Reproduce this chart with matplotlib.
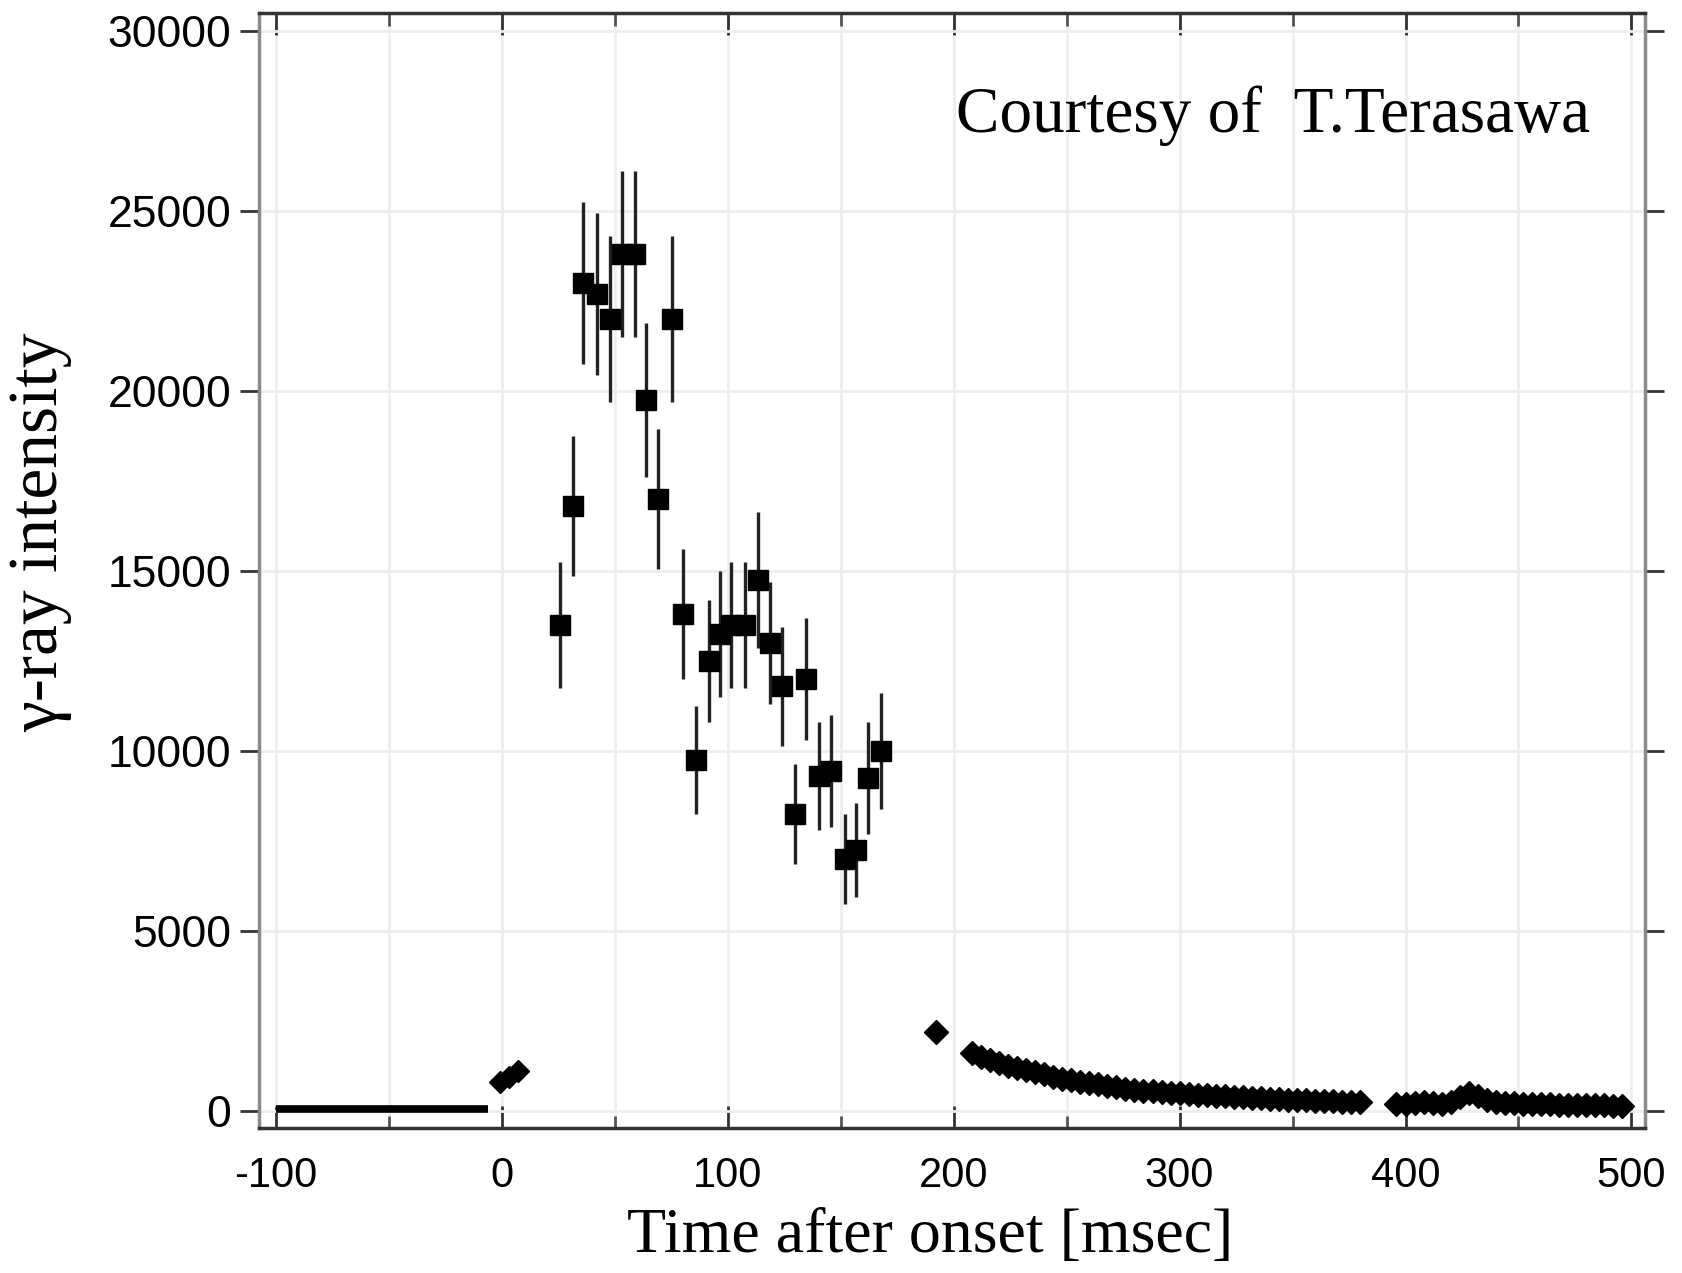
import numpy as np
import matplotlib.pyplot as plt
from matplotlib.ticker import MultipleLocator

plt.rcParams['axes.unicode_minus'] = False

# baseline before onset
base_t = [-100, -95, -90, -85, -80, -75, -70, -65, -60, -55, -50, -45, -40, -35, -30, -25, -20, -15, -10, -6]
base_y = [50, 50, 50, 50, 50, 50, 50, 50, 50, 50, 50, 50, 50, 50, 50, 50, 50, 50, 50, 50]

# diamonds just after onset
onset_t = [-1, 3, 7]
onset_y = [800, 950, 1100]

# points with error bars
burst_t = [25.7, 31.5, 36.0, 41.9, 47.8, 53.0, 58.8, 64.0, 69.2, 75.1, 80.2, 85.8, 91.7, 96.5,
           101.6, 107.5, 113.4, 118.6, 123.8, 129.6, 134.8, 140.4, 145.9, 151.8, 156.9, 162.1, 168.0]
burst_y = [13500, 16800, 23000, 22700, 22000, 23800, 23800, 19750, 17000, 22000, 13800, 9750, 12500, 13250,
           13500, 13500, 14750, 13000, 11800, 8250, 12000, 9300, 9450, 7000, 7250, 9250, 10000]
burst_err = [1750, 1950, 2250, 2250, 2300, 2300, 2300, 2150, 1950, 2300, 1800, 1500, 1700, 1750,
             1750, 1750, 1900, 1700, 1650, 1400, 1700, 1500, 1550, 1250, 1300, 1550, 1600]

# tail diamonds
tail_t = [192,
          208, 212, 216, 220, 224, 228, 232, 236, 240, 244, 248, 252, 256, 260, 264, 268, 272, 276,
          280, 284, 288, 292, 296, 300, 304, 308, 312, 316, 320, 324, 328, 332, 336, 340, 344, 348,
          352, 356, 360, 364, 368, 372, 376, 380,
          396, 400, 404, 408, 412, 416, 420, 424, 428, 432, 436, 440, 444, 448, 452, 456, 460, 464,
          468, 472, 476, 480, 484, 488, 492, 496]
tail_y = [2200,
          1600, 1500, 1420, 1330, 1260, 1200, 1140, 1080, 1020, 960, 900, 860, 820, 780, 740, 700, 660, 620,
          590, 570, 550, 530, 510, 490, 470, 460, 440, 420, 410, 390, 380, 370, 350, 340, 330, 320,
          310, 300, 290, 280, 270, 260, 250, 240,
          200, 210, 230, 240, 220, 210, 260, 380, 500, 420, 320, 260, 230, 220, 210, 200, 190, 185,
          180, 175, 170, 165, 160, 155, 150, 145]

fig = plt.figure(figsize=(16.82, 12.73), dpi=100)
ax = fig.add_axes([259/1682, 1 - 1128/1273, (1645-259)/1682, (1128-13)/1273])

ax.plot(base_t, base_y, color='black', lw=5.5, solid_capstyle='butt', zorder=3)
ax.plot(onset_t, onset_y, 'D', color='black', ms=11, zorder=3)
ax.errorbar(burst_t, burst_y, yerr=burst_err, fmt='s', color='black', ms=14,
            ecolor='#222222', elinewidth=2.4, capsize=0, zorder=3)
ax.plot(tail_t, tail_y, 'D', color='black', ms=12, zorder=3)

ax.set_xlim(-107.5, 506)
ax.set_ylim(-470, 30500)
ax.xaxis.set_major_locator(MultipleLocator(100))
ax.xaxis.set_minor_locator(MultipleLocator(50))
ax.yaxis.set_major_locator(MultipleLocator(5000))

ax.grid(True, which='both', axis='x', color='#eeeeee', lw=2)
ax.grid(True, which='major', axis='y', color='#eeeeee', lw=2)
ax.set_axisbelow(True)

for s in ['left', 'right']:
    ax.spines[s].set_color('#8a8a8a')
    ax.spines[s].set_linewidth(2.5)
for s in ['top', 'bottom']:
    ax.spines[s].set_color('#333333')
    ax.spines[s].set_linewidth(2.5)

ax.tick_params(axis='x', which='major', direction='in', length=16, width=2, color='#333333',
               top=True, bottom=True, pad=20, labelsize=30)
ax.tick_params(axis='x', which='minor', direction='in', length=9, width=2, color='#555555',
               top=True, bottom=True)
ax.tick_params(axis='y', which='major', direction='out', length=14, width=2, color='#333333',
               left=True, right=True, pad=6, labelsize=32)
for lab in ax.get_xticklabels() + ax.get_yticklabels():
    lab.set_family('Liberation Sans')

ax.set_xlabel('Time after onset [msec]', family='Liberation Serif', fontsize=46)
ax.set_ylabel('γ-ray intensity', family='Liberation Serif', fontsize=50)
ax.xaxis.set_label_coords(0.484, -0.072)
ax.yaxis.set_label_coords(-0.135, 0.534)

ax.text(0.503, 0.935, 'Courtesy of  T.Terasawa', transform=ax.transAxes,
        family='Liberation Serif', fontsize=47, va='top', ha='left')

fig.savefig('out.png', dpi=100, facecolor='white')
